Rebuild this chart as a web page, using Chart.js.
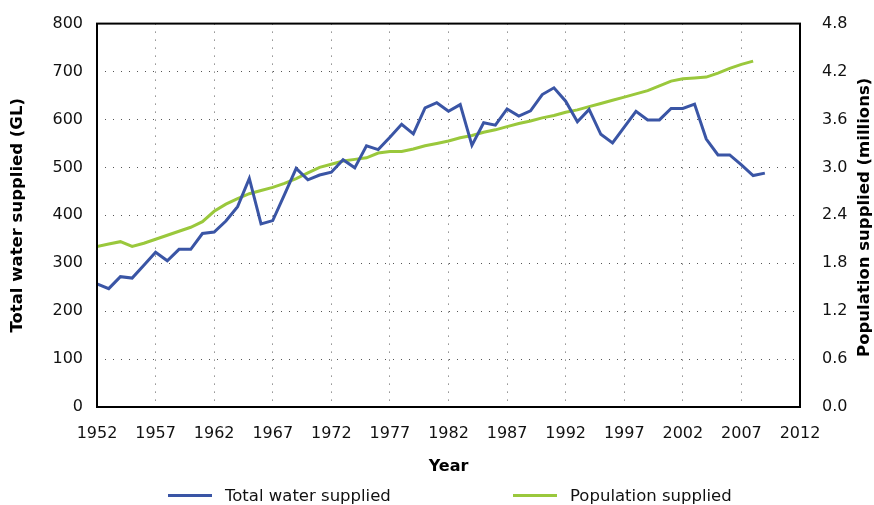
<!DOCTYPE html>
<html>
<head>
<meta charset="utf-8">
<script src="https://cdn.jsdelivr.net/npm/chart.js@4"></script>
<style>
    html, body { margin: 0; padding: 0; background: #fff; }
    #wrap { position: relative; width: 874px; height: 505px; }
    #legend {
        position: absolute; left: 0; top: 484px; width: 874px; height: 22px;
        font: 16.5px "DejaVu Sans", sans-serif; color: #111;
    }
    .item { position: absolute; top: 0; display: flex; align-items: center; height: 22px; }
    .swatch { width: 44px; height: 3px; margin-right: 13px; }
</style>
</head>
<body>
<div id="wrap">
    <canvas id="chart" width="874" height="505"></canvas>
    <div id="legend"></div>
</div>
<script>
// data
const waterYears = [];
for (let y = 1952; y <= 2009; y++) waterYears.push(y);
const waterSupplied = [
    257, 247, 272, 269, 296, 323, 305, 329, 329, 362,
    365, 388, 418, 477, 382, 389, 443, 498, 474, 484,
    490, 516, 499, 545, 537, 563, 590, 570, 624, 635,
    617, 631, 546, 593, 588, 622, 607, 618, 652, 666,
    638, 595, 621, 569, 551, 584, 617, 599, 599, 623,
    623, 632, 559, 526, 526, 505, 483, 488
];

const popYears = [];
for (let y = 1952; y <= 2008; y++) popYears.push(y);
const populationSupplied = [
    2.01, 2.04, 2.07, 2.01, 2.05, 2.10, 2.15, 2.20, 2.25, 2.32,
    2.45, 2.54, 2.61, 2.67, 2.71, 2.75, 2.80, 2.86, 2.93, 3.00,
    3.04, 3.08, 3.10, 3.12, 3.18, 3.20, 3.20, 3.23, 3.27, 3.30,
    3.33, 3.37, 3.40, 3.44, 3.47, 3.51, 3.55, 3.58, 3.62, 3.65,
    3.69, 3.72, 3.76, 3.80, 3.84, 3.88, 3.92, 3.96, 4.02, 4.08,
    4.11, 4.12, 4.13, 4.18, 4.24, 4.29, 4.33
];

const yearTicks = [1952, 1957, 1962, 1967, 1972, 1977, 1982, 1987, 1992, 1997, 2002, 2007, 2012];
const waterTicks = [0, 100, 200, 300, 400, 500, 600, 700, 800];
const popTicks = [0, 0.6, 1.2, 1.8, 2.4, 3.0, 3.6, 4.2, 4.8];

const BLUE = '#3a55a5';
const GREEN = '#9ac83c';

Chart.defaults.font.family = '"DejaVu Sans", sans-serif';
Chart.defaults.color = '#111';

const dottedGrid = {
    color: '#555',
    lineWidth: 1,
    drawTicks: false,
    tickBorderDash: [1, 7],
};

// box around the plot + the right axis title (reads bottom-to-top like the left one)
const framePlugin = {
    id: 'frame',
    afterDraw(chart) {
        const { ctx, chartArea: a } = chart;
        ctx.save();
        ctx.strokeStyle = '#000';
        ctx.lineWidth = 2;
        ctx.strokeRect(a.left, a.top, a.right - a.left, a.bottom - a.top);

        ctx.translate(865, (a.top + a.bottom) / 2 + 2);
        ctx.rotate(-Math.PI / 2);
        ctx.font = 'bold 16.5px "DejaVu Sans", sans-serif';
        ctx.fillStyle = '#000';
        ctx.textAlign = 'center';
        ctx.textBaseline = 'middle';
        ctx.fillText('Population supplied (millions)', 0, 0);
        ctx.restore();
    }
};

const chart = new Chart(document.getElementById('chart'), {
    type: 'line',
    data: {
        datasets: [{
            label: 'Total water supplied',
            data: waterYears.map((yr, i) => ({ x: yr, y: waterSupplied[i] })),
            borderColor: BLUE,
            borderWidth: 3,
            pointRadius: 0,
            tension: 0,
            yAxisID: 'y'
        }, {
            label: 'Population supplied',
            data: popYears.map((yr, i) => ({ x: yr, y: populationSupplied[i] })),
            borderColor: GREEN,
            borderWidth: 3,
            pointRadius: 0,
            tension: 0,
            yAxisID: 'y2'
        }]
    },
    options: {
        responsive: false,
        animation: false,
        layout: { padding: { left: 0, right: 0, top: 20, bottom: 25 } },
        plugins: {
            legend: { display: false },
            tooltip: { enabled: false }
        },
        scales: {
            x: {
                type: 'linear',
                min: 1952,
                max: 2012,
                afterBuildTicks: s => { s.ticks = yearTicks.map(v => ({ value: v })); },
                afterFit: s => { s.height = 73; },
                grid: { ...dottedGrid },
                border: { display: false, dash: [1, 7] },
                ticks: {
                    font: { size: 16 },
                    padding: 17,
                    maxRotation: 0,
                    callback: v => String(v)
                },
                title: {
                    display: true,
                    text: 'Year',
                    font: { size: 16, weight: 'bold' },
                    color: '#000',
                    padding: { top: 0, bottom: 4 }
                }
            },
            y: {
                position: 'left',
                min: 0,
                max: 800,
                afterBuildTicks: s => { s.ticks = waterTicks.map(v => ({ value: v })); },
                afterFit: s => { s.width = 97; },
                grid: { ...dottedGrid },
                border: { display: false, dash: [1, 7] },
                ticks: { font: { size: 16 }, padding: 14 },
                title: {
                    display: true,
                    text: 'Total water supplied (GL)',
                    font: { size: 16.5, weight: 'bold' },
                    color: '#000',
                    padding: { top: 8, bottom: 0 }
                }
            },
            y2: {
                position: 'right',
                min: 0,
                max: 4.8,
                afterBuildTicks: s => { s.ticks = popTicks.map(v => ({ value: v })); },
                afterFit: s => { s.width = 74; },
                grid: { display: false },
                border: { display: false },
                ticks: {
                    font: { size: 16 },
                    padding: 14,
                    callback: v => Number(v).toFixed(1)
                }
            }
        }
    },
    plugins: [framePlugin]
});

// html legend built from the datasets
const legend = document.getElementById('legend');
const legendX = [168, 513];
chart.data.datasets.forEach((ds, i) => {
    const item = document.createElement('div');
    item.className = 'item';
    item.style.left = legendX[i] + 'px';
    item.innerHTML = `<span class="swatch" style="background:${ds.borderColor}"></span><span>${ds.label}</span>`;
    legend.appendChild(item);
});
</script>
</body>
</html>
